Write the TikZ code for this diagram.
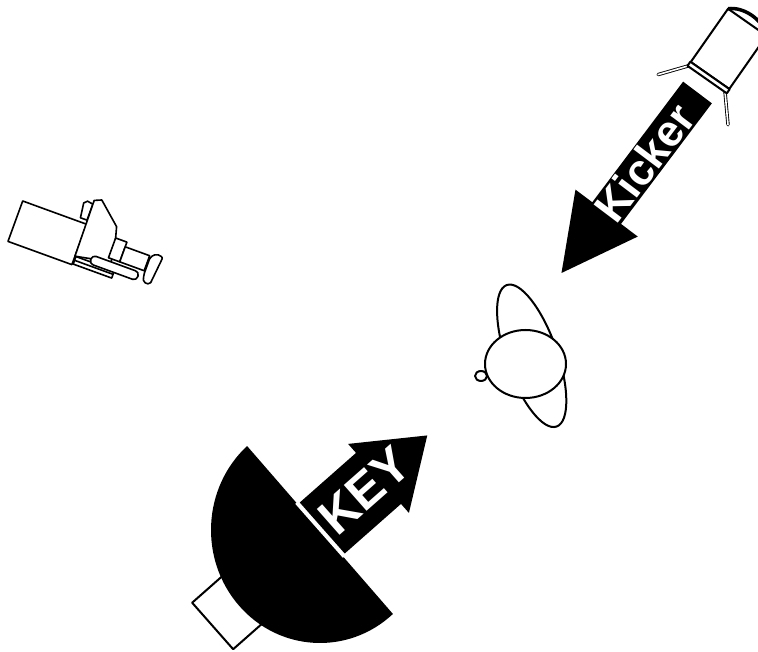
\documentclass[tikz,border=0pt]{standalone}
\usepackage{fontspec}
\usepackage{tikz}
\newfontfamily\labelfont{Liberation Sans}
\tikzset{outline/.style={draw=black,line width=2pt,fill=white,line join=round}}
\tikzset{thinline/.style={draw=black,line width=1.6pt,fill=white,line join=round}}
\tikzset{banner/.style={fill=black}}
\tikzset{tag/.style={text=white,font=\labelfont\bfseries,inner sep=0pt}}
\tikzset{leg/.style={draw=black,double=white,double distance=1.6pt,line width=0.9pt,line cap=round}}

\begin{document}
\begin{tikzpicture}[x=1pt,y=1pt]
\useasboundingbox (0,0) rectangle (758,652);
\clip (0,0) rectangle (758,652);

% camera
\begin{scope}[shift={(22.7,451)},rotate=-20]
	\draw[thinline] (0,-43) rectangle (68,0);
	\draw[thinline] (60,4) -- (58,19) -- (61,22) -- (67,21) -- (67,4) -- cycle;
	\draw[thinline] (68,-34) -- (67,25) -- (74,28) -- (97,8) -- (100,-3) -- (104,-27) -- cycle;
	\draw[thinline] (100,-3) rectangle (112,-24);
	\draw[thinline] (112,-8) rectangle (138,-24);
	\draw[thinline,rounded corners=2pt] (139,-9) -- (144,-4) -- (151,-5) -- (148,-35) -- (141,-35) -- (139,-28) -- cycle;
	\draw[thinline] (69,-34) rectangle (110,-42);
	\draw[thinline] (69,-38) -- (110,-38);
	\draw[thinline,rounded corners=4pt] (84,-27) rectangle (134,-36);
\end{scope}

% subject
\draw[outline] (481,276) ellipse [x radius=6,y radius=5];
\draw[outline,rotate around={19.4:(531.7,296.2)}] (531.7,296.2) ellipse [x radius=25.5,y radius=75];
\draw[outline] (525.5,288) ellipse [x radius=40.5,y radius=34];

% kicker lamp
\begin{scope}[shift={(710,576.5)},rotate=55]
	\draw[leg] (-3,22) -- (-29,43);
	\draw[leg] (-4,-21) -- (-30,-43);
	\draw[outline] (0,-23.5) rectangle (65,23.5);
	\draw[outline] (-5,-24) rectangle (0,24);
	\draw[line width=3.5pt] (65,23.5) .. controls (76,12) and (76,-12) .. (65,-23.5);
\end{scope}

% kicker arrow
\begin{scope}[shift={(697.5,559.5)},rotate=233]
	\fill[banner] (0,-18) -- (151,-18) -- (151,-39) -- (226,0) -- (151,39) -- (151,18) -- (0,18) -- cycle;
	\node[tag,rotate=53] (kicker) at (88,0) {\fontsize{44}{44}\selectfont Kicker};
\end{scope}

% key light
\begin{scope}[shift={(320,122)},rotate=41.4]
	\draw[outline] (-144,-32) rectangle (-95,30);
\end{scope}
\fill (320,122) ++(132:109 and 113) arc[start angle=132,end angle=312,x radius=109,y radius=113] -- cycle;
\begin{scope}[shift={(320,122)},rotate=41.4]
	\draw[white,line width=2.5pt] (0,-36) -- (0,36);
	\fill[banner] (3,-34) -- (78,-34) -- (78,-46) -- (143,0) -- (78,46) -- (78,34) -- (3,34) -- cycle;
	\node[tag,rotate=41.4] (key) at (60,0) {\fontsize{50}{50}\selectfont KEY};
\end{scope}

\end{tikzpicture}
\end{document}
